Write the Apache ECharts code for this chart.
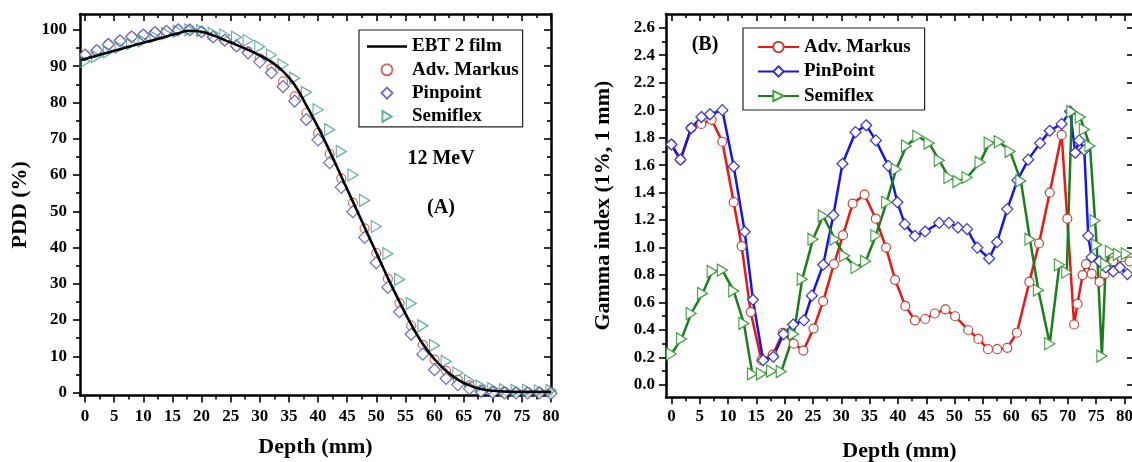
<!DOCTYPE html>
<html><head><meta charset="utf-8">
<script src="https://cdn.jsdelivr.net/npm/echarts@6/dist/echarts.min.js"></script>
<style>html,body{margin:0;padding:0;background:#fff}#c{width:1132px;height:462px}</style>
</head><body><div id="c"></div>
<script>
// ---------- Panel A : PDD ----------
const pddDepth = [0,2,4,6,8,10,12,14,16,18,20,22,24,26,28,30,32,34,36,38,40,42,44,46,48,50,52,54,56,58,60,62,64,66,68,70,72,74,76,78,80];
const filmDepth = [-0.6,0,2,4,6,8,10,12,14,16,18,20,22,24,26,28,30,32,34,36,38,40,42,44,46,48,50,52,54,56,58,60,62,64,66,68,70,72,74,76,78,80];
const filmPDD = [91.7,92.0,92.9,93.8,94.7,95.6,96.5,97.3,98.2,99.1,99.8,99.5,98.5,97.2,95.9,94.5,93.0,91.2,88.6,84.8,79.2,73.2,66.6,59.6,52.6,45.6,38.6,31.6,25.0,18.8,13.4,9.2,6.0,3.6,2.0,1.0,0.5,0.3,0.2,0.2,0.2,0.2];
const markusPDD = [93.1,94.3,96.0,97.0,98.1,98.6,99.3,99.6,100,100,99.5,98.1,97.2,95.6,94.0,92.2,89.4,85.8,81.7,77.1,71.6,65.8,59.1,52.3,45.3,38.5,31.4,24.7,18.5,13.2,9.1,6.0,3.6,2.0,0.8,0.4,0.2,0.1,0.1,0.1,0.1];
const pinpointPDD = [93.1,94.3,96.0,97.0,98.1,98.6,99.3,99.6,100,100,99.5,98.1,97.2,95.6,93.7,91.2,88.2,84.4,80.4,75.3,69.7,63.4,56.6,49.9,42.8,35.8,29.0,22.3,16.1,10.6,6.3,3.9,2.2,1.1,0.3,0.0,-0.1,-0.1,-0.1,-0.1,-0.2];
const semiflexPDD = [91.3,92.7,94.0,95.2,96.2,97.0,98.1,99.0,99.6,100,99.8,99.1,98.6,98.0,97.1,95.4,93.1,90.4,86.7,82.8,78.0,72.5,66.5,60.0,53.0,45.8,38.3,31.2,24.6,18.4,13.0,8.6,5.4,3.3,1.8,1.1,0.8,0.6,0.6,0.5,0.6];
const pddTicks = [0,10,20,30,40,50,60,70,80,90,100];
const pddMinor = [5,15,25,35,45,55,65,75,85,95];
const depthTicks = [0,5,10,15,20,25,30,35,40,45,50,55,60,65,70,75,80];
const depthMinor = [2.5,7.5,12.5,17.5,22.5,27.5,32.5,37.5,42.5,47.5,52.5,57.5,62.5,67.5,72.5,77.5];

// ---------- Panel B : Gamma index ----------
const markusDepth = [0,1.6,3.5,5.3,7.1,9.0,11.0,12.4,14.0,15.9,17.9,19.7,21.6,23.3,25.1,26.8,28.7,30.3,32.0,34.1,36.1,37.9,39.5,41.3,43.0,44.8,46.5,48.4,50.1,52.4,54.2,55.9,57.5,59.3,61.0,63.2,64.9,66.8,68.9,69.9,71.1,71.7,72.6,73.2,74.2,75.6,76.5,78.0,79.5,80.9];
const markusGamma = [1.75,1.64,1.87,1.90,1.93,1.77,1.33,1.01,0.53,0.18,0.22,0.38,0.30,0.25,0.41,0.61,0.88,1.09,1.32,1.385,1.21,1.00,0.765,0.575,0.47,0.48,0.52,0.55,0.50,0.40,0.335,0.26,0.26,0.27,0.38,0.75,1.03,1.40,1.82,1.21,0.44,0.59,0.80,0.88,0.81,0.75,0.81,0.90,0.93,0.90];
const pinDepth = [0,1.6,3.5,5.3,6.8,9.0,11.0,12.95,14.4,16.2,18.0,19.8,21.5,23.4,24.8,26.8,28.6,30.2,32.5,34.4,36.1,38.3,39.9,41.2,43.0,44.8,47.3,49.0,50.6,52.2,54.0,56.1,57.5,59.3,61.1,63.0,65.1,66.8,68.9,70.4,71.3,72.0,72.9,73.6,74.2,75.6,76.7,78.0,79.2,80.5];
const pinGamma = [1.75,1.64,1.87,1.95,1.97,2.00,1.59,1.115,0.62,0.18,0.205,0.37,0.44,0.47,0.65,0.875,1.235,1.61,1.84,1.89,1.78,1.595,1.33,1.17,1.085,1.117,1.18,1.18,1.146,1.134,1.00,0.92,1.04,1.28,1.49,1.64,1.76,1.85,1.90,1.99,1.69,1.78,1.71,1.085,0.93,0.90,0.855,0.826,0.855,0.807];
const semiDepth = [0,1.8,3.5,5.5,7.2,9.0,11.0,12.8,14.3,15.9,17.7,19.4,21.6,23.1,25.0,26.8,28.9,30.6,32.6,34.3,36.1,38.0,39.7,41.5,43.5,45.5,47.3,49.0,50.6,52.2,54.5,56.1,57.9,59.8,61.7,63.3,64.8,66.8,68.5,69.8,70.7,72.2,72.9,73.9,74.8,75.1,76.0,76.7,77.5,78.9,80.3];
const semiGamma = [0.225,0.335,0.52,0.666,0.826,0.836,0.685,0.448,0.08,0.08,0.10,0.097,0.37,0.77,1.06,1.23,1.06,0.94,0.855,0.90,1.086,1.33,1.57,1.74,1.81,1.76,1.635,1.51,1.48,1.51,1.62,1.76,1.77,1.70,1.485,1.06,0.69,0.30,0.875,0.82,1.99,1.95,1.86,1.74,1.195,1.02,0.21,0.88,0.97,0.95,0.955];
const gammaTicks = [0,0.2,0.4,0.6,0.8,1.0,1.2,1.4,1.6,1.8,2.0,2.2,2.4,2.6];
const gammaMinor = [0.1,0.3,0.5,0.7,0.9,1.1,1.3,1.5,1.7,1.9,2.1,2.3,2.5];

const F = 'Liberation Serif';
const zip = (a, b) => a.map((v, i) => [v, b[i]]);

function axes(dim, grid, o) {
  const near = dim === 'x' ? 'bottom' : 'left';
  const far = dim === 'x' ? 'top' : 'right';
  const base = { gridIndex: grid, type: 'value', min: o.min, max: o.max, splitLine: { show: false } };
  const line = { show: true, onZero: false, lineStyle: { color: '#000', width: 2.5 } };
  const noLine = { show: false, onZero: false };
  const tick = (vals, len, inside) => ({ show: true, inside: inside, length: len, customValues: vals, lineStyle: { color: '#000', width: 1.6 } });
  return [
    Object.assign({}, base, {
      position: near, axisLine: line, axisTick: tick(o.majors, 7, false),
      axisLabel: { show: true, customValues: o.majors, formatter: o.fmt, margin: o.margin, color: '#000', fontFamily: F, fontWeight: 'bold', fontSize: 17 },
      name: o.name, nameLocation: 'middle', nameGap: o.nameGap, nameRotate: dim === 'y' ? 90 : 0,
      nameTextStyle: { fontFamily: F, fontWeight: 'bold', fontSize: 22, color: '#000' }
    }),
    Object.assign({}, base, { position: near, axisLine: noLine, axisTick: tick(o.minors, 4, false), axisLabel: { show: false } }),
    Object.assign({}, base, { position: far, axisLine: line, axisTick: tick(o.majors, o.farLen || 7, true), axisLabel: { show: false } }),
    Object.assign({}, base, { position: far, axisLine: noLine, axisTick: o.farMinor ? tick(o.minors, 4, true) : { show: false }, axisLabel: { show: false } })
  ];
}

const xAxes = [].concat(
  axes('x', 0, { min: -0.86, max: 80, majors: depthTicks, minors: depthMinor, fmt: v => String(v), margin: 13, name: 'Depth (mm)', nameGap: 41, farMinor: true }),
  axes('x', 1, { min: -0.95, max: 81.5, majors: depthTicks, minors: depthMinor, fmt: v => String(v), margin: 11, name: 'Depth (mm)', nameGap: 43, farMinor: true })
);
const yAxes = [].concat(
  axes('y', 0, { min: -0.8, max: 104.4, majors: pddTicks, minors: pddMinor, fmt: v => String(v), margin: 13, name: 'PDD (%)', nameGap: 49, farMinor: true }),
  axes('y', 1, { min: -0.09, max: 2.7, majors: gammaTicks, minors: gammaMinor, fmt: v => v.toFixed(1), margin: 11, name: 'Gamma index (1%, 1 mm)', nameGap: 52, farMinor: false, farLen: 6 })
);

const triPath = 'path://M0,0L10,6L0,12Z';
const filmIcon = 'path://M0,0M0,4.2H40V6.8H0ZM40,11';
const diamondIcon = 'path://M0,0M20,-0.5L26,5.5L20,11.5L14,5.5ZM40,11';
const legendText = { fontFamily: F, fontWeight: 'bold', fontSize: 19, color: '#000', lineHeight: 19 };

const option = {
  animation: false,
  backgroundColor: '#fff',
  grid: [
    { left: 80, right: 581, top: 14, bottom: 66.5, containLabel: false, outerBoundsMode: 'none' },
    { left: 666, right: -1, top: 14, bottom: 64.7, containLabel: false, outerBoundsMode: 'none' }
  ],
  xAxis: xAxes,
  yAxis: yAxes,
  legend: [
    {
      orient: 'vertical', left: 359, top: 30, padding: [7, 4, 1, 8],
      itemWidth: 40, itemHeight: 11, itemGap: 4.3,
      borderColor: '#222', borderWidth: 1.2, selectedMode: false,
      textStyle: legendText, formatter: n => n.trim(),
      data: [{ name: 'EBT 2 film', icon: filmIcon }, 'Adv. Markus', { name: 'Pinpoint', icon: diamondIcon }, 'Semiflex']
    },
    {
      orient: 'vertical', left: 743, top: 28, padding: [9.5, 14, 4.5, 14],
      itemWidth: 41, itemHeight: 13, itemGap: 5.5,
      borderColor: '#222', borderWidth: 1.2, selectedMode: false,
      textStyle: legendText, formatter: n => n.trim(),
      data: ['Adv. Markus ', 'PinPoint', 'Semiflex ']
    }
  ],
  graphic: [
    { type: 'text', x: 441, y: 159, style: { text: '12 MeV', font: 'bold 20px "Liberation Serif"', fill: '#000', align: 'center', verticalAlign: 'middle', textAlign: 'center', textVerticalAlign: 'middle' } },
    { type: 'text', x: 441, y: 208, style: { text: '(A)', font: 'bold 20px "Liberation Serif"', fill: '#000', align: 'center', verticalAlign: 'middle', textAlign: 'center', textVerticalAlign: 'middle' } },
    { type: 'text', x: 705, y: 45, style: { text: '(B)', font: 'bold 20px "Liberation Serif"', fill: '#000', align: 'center', verticalAlign: 'middle', textAlign: 'center', textVerticalAlign: 'middle' } }
  ],
  series: [
    { type: 'line', name: 'EBT 2 film', xAxisIndex: 0, yAxisIndex: 0, data: zip(filmDepth, filmPDD), smooth: true, symbol: 'none',
      lineStyle: { color: '#000', width: 2.6 }, itemStyle: { color: '#000' }, z: 5 },
    { type: 'scatter', name: 'Adv. Markus', xAxisIndex: 0, yAxisIndex: 0, data: zip(pddDepth, markusPDD), symbol: 'circle', symbolSize: 9,
      itemStyle: { color: 'rgba(255,255,255,0)', borderColor: '#c8463c', borderWidth: 1.2 }, z: 2 },
    { type: 'scatter', name: 'Pinpoint', xAxisIndex: 0, yAxisIndex: 0, data: zip(pddDepth, pinpointPDD), symbol: 'diamond', symbolSize: 12,
      itemStyle: { color: '#fff', borderColor: '#4b47b3', borderWidth: 1.2 }, z: 3 },
    { type: 'scatter', name: 'Semiflex', xAxisIndex: 0, yAxisIndex: 0, data: zip(pddDepth, semiflexPDD), symbol: triPath, symbolSize: [10, 12],
      itemStyle: { color: 'rgba(255,255,255,0)', borderColor: '#3c9c8c', borderWidth: 1.2 }, z: 4 },

    { type: 'line', name: 'Adv. Markus ', xAxisIndex: 4, yAxisIndex: 4, data: zip(markusDepth, markusGamma), symbol: 'circle', symbolSize: 9,
      lineStyle: { color: '#f01414', width: 2.5 }, itemStyle: { color: '#fff', borderColor: '#c0483a', borderWidth: 1.2 } },
    { type: 'line', name: 'PinPoint', xAxisIndex: 4, yAxisIndex: 4, data: zip(pinDepth, pinGamma), symbol: 'diamond', symbolSize: 11,
      lineStyle: { color: '#1414f0', width: 2.5 }, itemStyle: { color: '#fff', borderColor: '#3434c8', borderWidth: 1.2 } },
    { type: 'line', name: 'Semiflex ', xAxisIndex: 4, yAxisIndex: 4, data: zip(semiDepth, semiGamma), symbol: triPath, symbolSize: [10, 12],
      lineStyle: { color: '#1a7f1a', width: 2.5 }, itemStyle: { color: '#fff', borderColor: '#43a043', borderWidth: 1.2 } }
  ]
};

const chart = echarts.init(document.getElementById('c'), null, { renderer: 'canvas' });
chart.setOption(option);
</script>
</body></html>
